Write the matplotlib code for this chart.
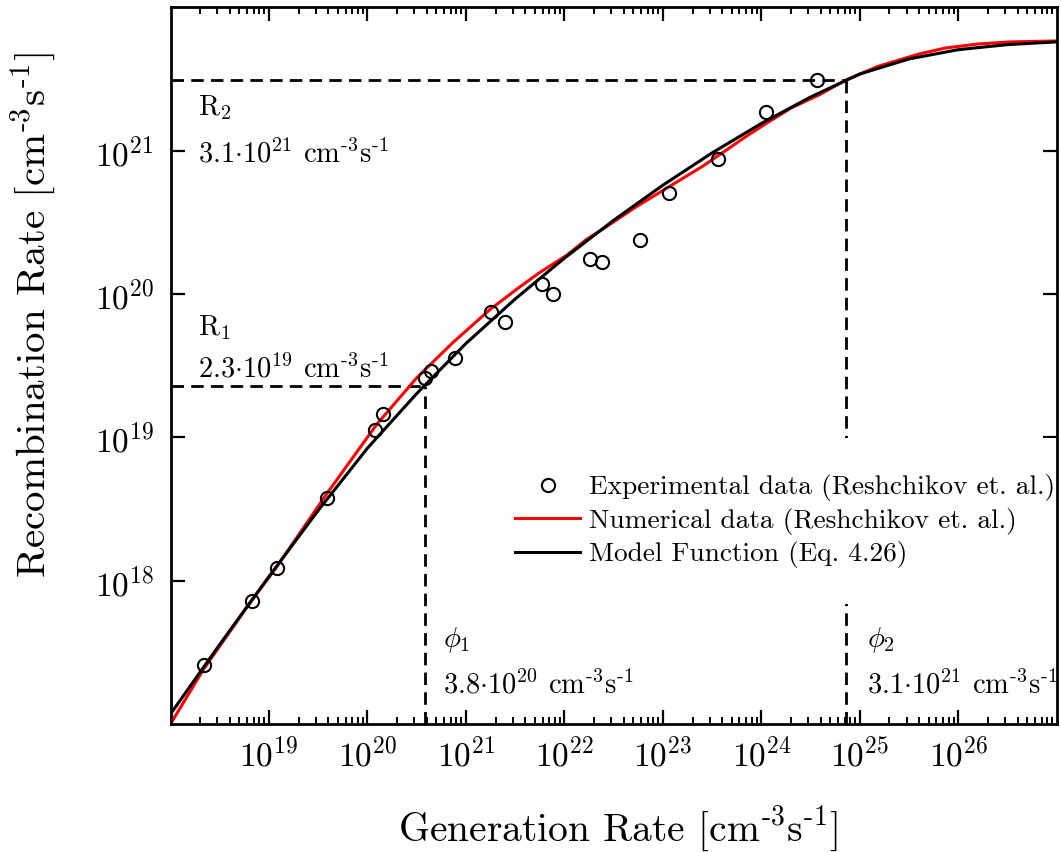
import matplotlib
matplotlib.use('Agg')
import matplotlib.pyplot as plt
from matplotlib.ticker import LogLocator, NullLocator, NullFormatter

plt.rcParams['font.family'] = 'serif'
plt.rcParams['font.serif'] = ['cmr10']
plt.rcParams['mathtext.fontset'] = 'cm'
plt.rcParams['axes.formatter.use_mathtext'] = True

'''------- data read off the figure -------'''
# experimental data (Reshchikov et. al.)
expG = [2.2e18, 6.7e18, 1.2e19, 3.9e19, 1.2e20, 1.43e20, 3.8e20, 4.4e20, 7.7e20,
        1.8e21, 2.5e21, 5.9e21, 7.6e21, 1.8e22, 2.4e22, 5.8e22, 1.16e23, 3.6e23,
        1.12e24, 3.7e24]
expR = [2.6e17, 7.2e17, 1.23e18, 3.8e18, 1.12e19, 1.45e19, 2.6e19, 2.9e19, 3.6e19,
        7.5e19, 6.4e19, 1.17e20, 1.0e20, 1.76e20, 1.68e20, 2.4e20, 5.1e20, 8.7e20,
        1.86e21, 3.1e21]

# numerical data (Reshchikov et. al.)
numG = [1.0e18, 2.14e18, 6.4e18, 1.2e19, 3.89e19, 1.24e20, 3.16e20, 7.33e20, 1.74e21,
        3.51e21, 5.58e21, 1.05e22, 1.67e22, 2.67e22, 5.37e22, 1.16e23, 2.51e23,
        4.01e23, 7.02e23, 1.12e24, 2.04e24, 3.85e24, 7.24e24, 1.55e25, 3.98e25,
        7.41e25, 1.6e26, 3.47e26, 9.7e26]
numR = [1.0e17, 2.38e17, 7.0e17, 1.25e18, 4.07e18, 1.23e19, 2.6e19, 4.57e19, 7.76e19,
        1.12e20, 1.41e20, 1.86e20, 2.4e20, 2.95e20, 4.07e20, 5.62e20, 7.76e20,
        9.66e20, 1.26e21, 1.55e21, 2.0e21, 2.45e21, 3.12e21, 3.89e21, 4.73e21,
        5.21e21, 5.56e21, 5.75e21, 5.83e21]

# model function (Eq. 4.26)
modG = [1e18, 3.16e18, 1e19, 3.16e19, 1e20, 3.16e20, 1e21, 3.16e21, 1e22, 3.16e22,
        1e23, 3.16e23, 1e24, 3.16e24, 1e25, 3.16e25, 1e26, 3.16e26, 1e27]
modR = [1.175e17, 3.59e17, 1.07e18, 3.09e18, 8.41e18, 2.02e19, 4.52e19, 9.23e19,
        1.78e20, 3.27e20, 5.75e20, 9.66e20, 1.55e21, 2.37e21, 3.43e21, 4.37e21,
        5.07e21, 5.50e21, 5.75e21]

# characteristic points
phi1, R1 = 3.8e20, 2.3e19
phi2, R2 = 7.24e24, 3.1e21

xTicks = [1e19, 1e20, 1e21, 1e22, 1e23, 1e24, 1e25, 1e26]
yTicks = [1e18, 1e19, 1e20, 1e21]
xLim = (1e18, 1e27)
yLim = (1e17, 1e22)

unit = r'cm$^{\text{-3}}$s$^{\text{-1}}$'

'''------- plot -------'''
fig = plt.figure(figsize=(10.61, 8.52), dpi=100)
ax = fig.add_axes([0.1607, 0.1502, 0.8353, 0.8411])
ax.set_xscale('log')
ax.set_yscale('log')

dash = (0, (4.5, 2.6))
ax.hlines(R1, xLim[0], phi1, colors='k', linestyles=dash, lw=2.0, zorder=1.5)
ax.vlines(phi1, yLim[0], R1, colors='k', linestyles=dash, lw=2.0, zorder=1.5)
ax.hlines(R2, xLim[0], phi2, colors='k', linestyles=dash, lw=2.0, zorder=1.5)
ax.vlines(phi2, yLim[0], R2, colors='k', linestyles=dash, lw=2.0, zorder=1.5)

hNum, = ax.plot(numG, numR, color='#ff0000', lw=2.2, label='Numerical data (Reshchikov et. al.)')
hMod, = ax.plot(modG, modR, color='k', lw=2.2, label='Model Function (Eq. 4.26)')
hExp, = ax.plot(expG, expR, 'o', mfc='none', mec='k', ms=9.5, mew=1.5, zorder=4,
                label='Experimental data (Reshchikov et. al.)')

ax.set_xlim(*xLim)
ax.set_ylim(*yLim)

ax.set_xticks(xTicks)
ax.xaxis.set_minor_locator(LogLocator(base=10, subs=range(2, 10), numticks=30))
ax.xaxis.set_minor_formatter(NullFormatter())
ax.set_yticks(yTicks)
ax.yaxis.set_minor_locator(NullLocator())

ax.tick_params(which='both', direction='in', top=True, right=True)
ax.tick_params(which='major', length=10, width=1.6, labelsize=24)
ax.tick_params(which='minor', length=5, width=1.4)
ax.tick_params(axis='x', which='major', pad=9)
ax.tick_params(axis='y', which='major', pad=12)
for s in ax.spines.values():
    s.set_linewidth(2.0)

ax.set_xlabel('Generation Rate [' + unit + ']', fontsize=28.5)
ax.set_ylabel('Recombination Rate [' + unit + ']', fontsize=29.5)
ax.xaxis.set_label_coords(0.505, -0.112)
ax.yaxis.set_label_coords(-0.127, 0.571)

# annotations of the characteristic points
fs = 20.5
ax.text(0.031, 0.850, r'R$_2$', transform=ax.transAxes, fontsize=fs, va='baseline')
ax.text(0.031, 0.784, r'3.1$\cdot$10$^{21}$ ' + unit, transform=ax.transAxes,
        fontsize=fs, va='baseline')
ax.text(0.031, 0.543, r'R$_1$', transform=ax.transAxes, fontsize=fs, va='baseline')
ax.text(0.031, 0.483, r'2.3$\cdot$10$^{19}$ ' + unit, transform=ax.transAxes,
        fontsize=fs, va='baseline')
ax.text(0.307, 0.107, r'$\phi_1$', transform=ax.transAxes, fontsize=fs, va='baseline')
ax.text(0.307, 0.043, r'3.8$\cdot$10$^{20}$ ' + unit, transform=ax.transAxes,
        fontsize=fs, va='baseline')
ax.text(0.786, 0.107, r'$\phi_2$', transform=ax.transAxes, fontsize=fs, va='baseline')
ax.text(0.786, 0.043, r'3.1$\cdot$10$^{21}$ ' + unit, transform=ax.transAxes,
        fontsize=fs, va='baseline')

leg = ax.legend(handles=[hExp, hNum, hMod], loc='upper left', bbox_to_anchor=(0.348, 0.399),
                borderaxespad=0, fontsize=19.7, frameon=True, fancybox=False,
                facecolor='white', edgecolor='none', framealpha=1,
                handlelength=2.38, handletextpad=0.33, labelspacing=0.24, borderpad=1.32)
leg.set_zorder(2.2)

fig.savefig('out.png', dpi=100)
